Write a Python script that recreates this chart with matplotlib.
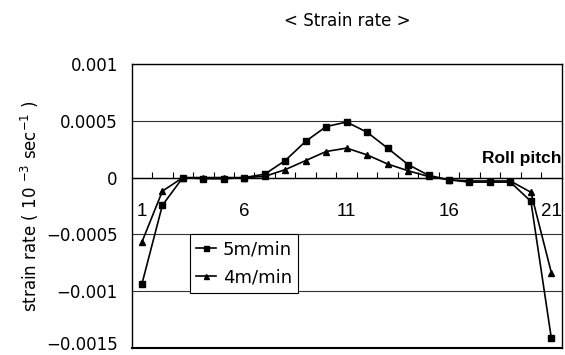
"""Strain rate along the roll pitch for two casting speeds."""

import matplotlib
matplotlib.use("Agg")
import matplotlib.pyplot as plt
import matplotlib.transforms as mtransforms
import numpy as np
from matplotlib.ticker import FixedLocator, FuncFormatter

roll_pitch = np.arange(1, 22)
rate_5 = [-0.00094, -0.000245, 0.0, -0.00001, -0.00001, 0.0, 0.00003, 0.00015,
          0.00032, 0.00045, 0.00049, 0.0004, 0.00026, 0.000115, 0.00002,
          -0.00002, -0.00004, -0.00004, -0.00004, -0.00021, -0.00142]
rate_4 = [-0.00057, -0.00012, 0.0, 0.0, 0.0, 0.0, 0.00001, 0.00007,
          0.00015, 0.00023, 0.00026, 0.0002, 0.00012, 0.00006, 0.00001,
          -0.00002, -0.00003, -0.00003, -0.00003, -0.00013, -0.00084]
y_ticks = [0.001, 0.0005, 0, -0.0005, -0.001, -0.0015]
y_labels = ["0.001", "0.0005", "0", "\u22120.0005", "\u22120.001", "\u22120.0015"]
x_labels = [1, 6, 11, 16, 21]

plt.rcParams["font.family"] = ["DejaVu Sans"]
narrow = "Liberation Sans"

fig = plt.figure(figsize=(5.65, 3.55), dpi=100)
ax = fig.add_axes([0.233, 0.021, 0.761, 0.798])

ax.plot(roll_pitch, rate_5, color="black", lw=1.2, marker="s", ms=4.5, label="5m/min")
ax.plot(roll_pitch, rate_4, color="black", lw=1.2, marker="^", ms=4.5, label="4m/min")

ax.set_xlim(0.5, 21.5)
ax.set_ylim(-0.0015, 0.001)
ax.set_yticks(y_ticks)
ax.set_yticklabels(y_labels, fontsize=12)
ax.tick_params(axis="y", length=0, pad=10)
ax.yaxis.grid(True, color="#333333", lw=0.8)
ax.set_axisbelow(True)
# lowest label sits at the figure edge; lift it a touch
bottom_lab = ax.get_yticklabels()[-1]
bottom_lab.set_transform(bottom_lab.get_transform() +
                         mtransforms.ScaledTranslation(0, 3 / 72, fig.dpi_scale_trans))

# x axis sits on the zero line, ticks between categories
ax.spines["bottom"].set_position(("data", 0))
ax.spines["bottom"].set_linewidth(1.0)
ax.xaxis.set_major_locator(FixedLocator(x_labels))
ax.xaxis.set_major_formatter(FuncFormatter(lambda v, p: f"{int(v)}"))
ax.xaxis.set_minor_locator(FixedLocator(roll_pitch[:-1] + 0.5))
ax.tick_params(axis="x", which="major", length=0, pad=18)
ax.tick_params(axis="x", which="minor", direction="in", length=4, width=0.8)
for lab in ax.get_xticklabels():
    lab.set_fontfamily(narrow)
    lab.set_fontsize(13.5)
for side in ["top", "left", "right"]:
    ax.spines[side].set_linewidth(1.0)
ax.axhline(-0.0015, color="black", lw=1.5, clip_on=False)

ax.text(21.5, 0.0001, "Roll pitch", ha="right", va="bottom", fontsize=12.5,
        fontweight="bold", family=narrow)

ax.set_ylabel("strain rate ( 10 $^{-3}$ sec$^{-1}$ )", fontsize=12)
ax.yaxis.set_label_coords(-0.21, 0.5)

fig.text(0.614, 0.94, "< Strain rate >", ha="center", va="center", fontsize=12)

leg = ax.legend(loc="upper left", bbox_to_anchor=(0.136, 0.40), fontsize=13,
                frameon=True, fancybox=False, edgecolor="black", framealpha=1,
                handlelength=1.1, handletextpad=0.35, borderpad=0.35,
                labelspacing=0.55, borderaxespad=0, markerscale=0.8)
leg.get_frame().set_linewidth(0.8)

fig.savefig("out.png", dpi=100)
